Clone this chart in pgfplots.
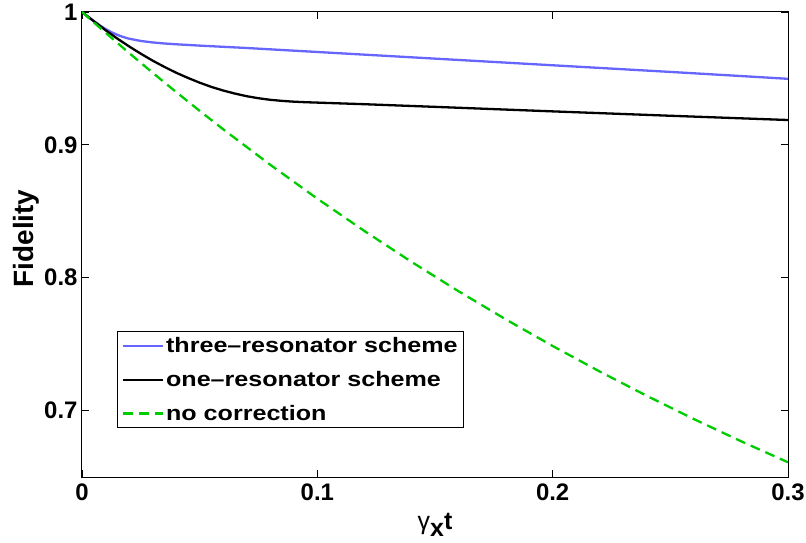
\documentclass[border=0pt]{standalone}
\usepackage{fontspec}
\setmainfont{Liberation Sans}
\newfontfamily\legfont[FakeStretch=1.2]{Liberation Sans}
\usepackage{pgfplots}
\pgfplotsset{compat=1.18}
\definecolor{myblue}{RGB}{102,102,255}
\definecolor{mygreen}{RGB}{0,204,0}
\begin{document}
\begin{tikzpicture}
\begin{axis}[
  name=ax,
  scale only axis,
  width=706bp, height=465bp,
  xmin=0, xmax=0.3, ymin=0.65, ymax=1,
  xtick={0,0.1,0.2,0.3},
  ytick={0.7,0.8,0.9,1},
  tick align=inside,
  major tick length=7bp,
  axis line style={line width=1bp},
  every tick/.style={black,line width=0.8bp},
  /pgf/number format/assume math mode=true,
  tick label style={font=\fontsize{24}{28}\selectfont\bfseries},
  xticklabel style={yshift=-3bp},
  yticklabel style={xshift=-1bp},
  xlabel={{\fontsize{25}{29}\selectfont γ\raisebox{-7bp}{\bfseries x}\bfseries t}},
  xlabel style={yshift=-6bp},
  ylabel={\fontsize{28}{32}\selectfont\bfseries Fidelity},
  ylabel style={yshift=-2bp, xshift=6bp},
  legend style={
    at={(0.05,0.105)}, anchor=south west,
    draw=black, line width=1bp,
    font=\fontsize{21}{24}\selectfont\legfont\bfseries,
    inner xsep=4bp, inner ysep=4bp,
    row sep=13bp,
  },
  legend cell align=left,
  legend image code/.code={\draw[#1] (0bp,0bp) -- (40bp,0bp);},
]
\addplot[myblue, line width=2.3bp] coordinates {
(0,1) (0.0025,0.9965) (0.005,0.9932) (0.0075,0.9900) (0.01,0.9872)
(0.0125,0.9848) (0.015,0.9828) (0.0175,0.9812) (0.02,0.9799)
(0.025,0.9782) (0.03,0.9771) (0.035,0.9763) (0.04,0.9757)
(0.05,0.9747) (0.06,0.9738) (0.07,0.9729) (0.08,0.9719)
(0.10,0.9699) (0.12,0.9679) (0.15,0.9649) (0.18,0.9619)
(0.20,0.9599) (0.22,0.9579) (0.25,0.9549) (0.28,0.9518) (0.30,0.9497)
};
\addlegendentry{three–resonator scheme}
\addplot[black, line width=2.3bp] coordinates {
(0,1) (0.005,0.9931) (0.01,0.9863) (0.015,0.9800) (0.02,0.9741)
(0.025,0.9686) (0.03,0.9634) (0.035,0.9587) (0.04,0.9543)
(0.045,0.9504) (0.05,0.9468) (0.055,0.9436) (0.06,0.9409)
(0.065,0.9386) (0.07,0.9366) (0.075,0.9351) (0.08,0.9339)
(0.085,0.9331) (0.09,0.9325) (0.095,0.9321) (0.10,0.9318)
(0.12,0.9306) (0.15,0.9286) (0.20,0.9252) (0.25,0.9219) (0.30,0.9187)
};
\addlegendentry{one–resonator scheme}
\addplot[mygreen, line width=2.3bp, dash pattern=on 10bp off 6bp] coordinates {
(0,1) (0.01,0.98441) (0.02,0.96917) (0.03,0.95430) (0.04,0.93977)
(0.05,0.92559) (0.06,0.91173) (0.08,0.88499) (0.10,0.85949)
(0.12,0.83517) (0.14,0.81196) (0.16,0.78983) (0.18,0.76872)
(0.20,0.74859) (0.22,0.72939) (0.24,0.71108) (0.26,0.69361)
(0.28,0.67695) (0.30,0.66106)
};
\addlegendentry{no correction}
\end{axis}
\pgfresetboundingbox
\path ([shift={(-82bp,-66bp)}]ax.south west) rectangle ([shift={(18bp,12bp)}]ax.north east);
\end{tikzpicture}
\end{document}
